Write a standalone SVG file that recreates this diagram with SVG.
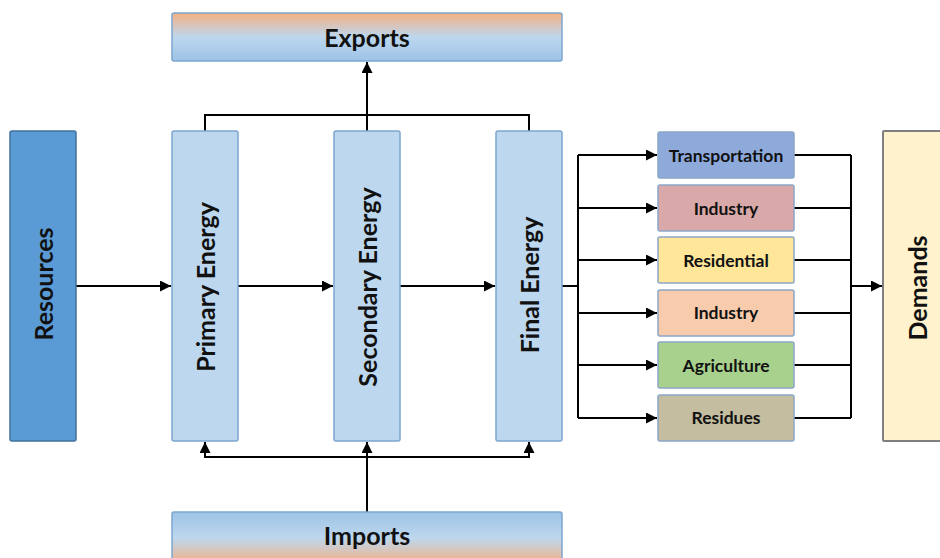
<svg xmlns="http://www.w3.org/2000/svg" width="940" height="558" viewBox="0 0 940 558">
  <style>
    .lbl { font-family: Lato, "Liberation Sans", sans-serif; font-weight: bold; fill: #111; text-anchor: middle; dominant-baseline: central; }
    .big { font-size: 25px; }
    .small { font-size: 17.5px; }
    .col { fill: #bdd7ee; stroke: #7ea6cf; stroke-width: 1.5; }
    .cat { stroke: #8aa7c6; stroke-width: 1.5; }
    .wire { fill: none; stroke: #000; stroke-width: 2; }
  </style>
  <defs>
    <linearGradient id="gExp" x1="0" y1="0" x2="0" y2="1">
      <stop offset="0" stop-color="#f4b183"/>
      <stop offset="0.5" stop-color="#bdd7ee"/>
      <stop offset="1" stop-color="#9dc3e6"/>
    </linearGradient>
    <linearGradient id="gImp" x1="0" y1="0" x2="0" y2="1">
      <stop offset="0" stop-color="#9dc3e6"/>
      <stop offset="0.5" stop-color="#bdd7ee"/>
      <stop offset="1" stop-color="#f4b183"/>
    </linearGradient>
    <marker id="arr" viewBox="0 0 10 10" refX="10" refY="5" markerWidth="11" markerHeight="11" markerUnits="userSpaceOnUse" orient="auto">
      <path d="M0,0 L10,5 L0,10 z" fill="#000"/>
    </marker>
  </defs>

  <rect width="940" height="558" fill="#fff"/>

  <g id="connectors">
    <polyline class="wire" points="205,131 205,115 529,115 529,131"/>
    <line class="wire" x1="367" y1="131" x2="367" y2="62" marker-end="url(#arr)"/>
    <line class="wire" x1="367" y1="512" x2="367" y2="442" marker-end="url(#arr)"/>
    <polyline class="wire" points="205,450 205,457 529,457 529,450"/>
    <line class="wire" x1="205" y1="457" x2="205" y2="442" marker-end="url(#arr)"/>
    <line class="wire" x1="529" y1="457" x2="529" y2="442" marker-end="url(#arr)"/>
    <line class="wire" x1="76" y1="286" x2="171" y2="286" marker-end="url(#arr)"/>
    <line class="wire" x1="238" y1="286" x2="333" y2="286" marker-end="url(#arr)"/>
    <line class="wire" x1="400" y1="286" x2="495" y2="286" marker-end="url(#arr)"/>
    <line class="wire" x1="562" y1="286" x2="578" y2="286"/>
    <line class="wire" x1="578" y1="155" x2="578" y2="418"/>
    <line class="wire" x1="578" y1="155" x2="657" y2="155" marker-end="url(#arr)"/>
    <line class="wire" x1="578" y1="208" x2="657" y2="208" marker-end="url(#arr)"/>
    <line class="wire" x1="578" y1="260" x2="657" y2="260" marker-end="url(#arr)"/>
    <line class="wire" x1="578" y1="313" x2="657" y2="313" marker-end="url(#arr)"/>
    <line class="wire" x1="578" y1="365" x2="657" y2="365" marker-end="url(#arr)"/>
    <line class="wire" x1="578" y1="418" x2="657" y2="418" marker-end="url(#arr)"/>
    <line class="wire" x1="794" y1="155" x2="851" y2="155"/>
    <line class="wire" x1="794" y1="208" x2="851" y2="208"/>
    <line class="wire" x1="794" y1="260" x2="851" y2="260"/>
    <line class="wire" x1="794" y1="313" x2="851" y2="313"/>
    <line class="wire" x1="794" y1="365" x2="851" y2="365"/>
    <line class="wire" x1="794" y1="418" x2="851" y2="418"/>
    <line class="wire" x1="851" y1="155" x2="851" y2="418"/>
    <line class="wire" x1="851" y1="286" x2="882" y2="286" marker-end="url(#arr)"/>
  </g>

  <g id="exports">
    <rect x="172" y="13" width="390" height="48" rx="2" fill="url(#gExp)" stroke="#7ea6cf" stroke-width="1.5"/>
    <text class="lbl big" x="367" y="37">Exports</text>
  </g>

  <g id="imports">
    <rect x="172" y="512" width="390" height="52" rx="2" fill="url(#gImp)" stroke="#7ea6cf" stroke-width="1.5"/>
    <text class="lbl big" x="367" y="535">Imports</text>
  </g>

  <g id="resources">
    <rect x="10" y="131" width="66" height="310" rx="2" fill="#5b9bd5" stroke="#41719c" stroke-width="1.5"/>
    <text class="lbl big" transform="translate(43,284) rotate(-90)">Resources</text>
  </g>

  <g id="primary">
    <rect class="col" x="172" y="131" width="66" height="310" rx="2"/>
    <text class="lbl big" transform="translate(205,287) rotate(-90)">Primary Energy</text>
  </g>

  <g id="secondary">
    <rect class="col" x="334" y="131" width="66" height="310" rx="2"/>
    <text class="lbl big" transform="translate(367,287) rotate(-90)">Secondary Energy</text>
  </g>

  <g id="final">
    <rect class="col" x="496" y="131" width="66" height="310" rx="2"/>
    <text class="lbl big" transform="translate(529,285) rotate(-90)">Final Energy</text>
  </g>

  <g id="transportation">
    <rect class="cat" x="658" y="132" width="136" height="46" rx="2" fill="#8eaadb"/>
    <text class="lbl small" x="726" y="155">Transportation</text>
  </g>
  <g id="industry1">
    <rect class="cat" x="658" y="185" width="136" height="46" rx="2" fill="#d9a8a8"/>
    <text class="lbl small" x="726" y="208">Industry</text>
  </g>
  <g id="residential">
    <rect class="cat" x="658" y="237" width="136" height="46" rx="2" fill="#ffe699"/>
    <text class="lbl small" x="726" y="260">Residential</text>
  </g>
  <g id="industry2">
    <rect class="cat" x="658" y="290" width="136" height="46" rx="2" fill="#f8cbad"/>
    <text class="lbl small" x="726" y="312">Industry</text>
  </g>
  <g id="agriculture">
    <rect class="cat" x="658" y="342" width="136" height="46" rx="2" fill="#a9d18e"/>
    <text class="lbl small" x="726" y="365">Agriculture</text>
  </g>
  <g id="residues">
    <rect class="cat" x="658" y="395" width="136" height="46" rx="2" fill="#c4bda0"/>
    <text class="lbl small" x="726" y="417">Residues</text>
  </g>

  <g id="demands">
    <rect x="883" y="131" width="70" height="310" rx="1" fill="#fff2cc" stroke="#7f7f7f" stroke-width="2"/>
    <text class="lbl big" transform="translate(917,288) rotate(-90)">Demands</text>
  </g>
</svg>
